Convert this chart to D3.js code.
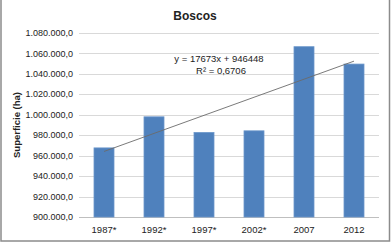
<!DOCTYPE html>
<html>
<head>
<meta charset="utf-8">
<script src="https://cdn.jsdelivr.net/npm/d3@7"></script>
<style>
  body { margin: 0; background: #fff; overflow: hidden; }
  svg { display: block; }
  text { font-family: "Liberation Sans", Arial, sans-serif; fill: #222; }
</style>
</head>
<body>
<div id="chart"></div>
<script>
// data
const years = ["1987*", "1992*", "1997*", "2002*", "2007", "2012"];
const surface = [967600, 998000, 982700, 984300, 1066600, 1049600];
const yTicks = [900000, 920000, 940000, 960000, 980000, 1000000, 1020000, 1040000, 1060000, 1080000];
const trendSlope = 17673;
const trendIntercept = 946448;
const trendLabel = "y = 17673x + 946448";
const r2Label = "R\u00b2 = 0,6706";

const width = 391, height = 244;
const margin = { top: 33, right: 12, bottom: 27, left: 79 };
const innerWidth = width - margin.left - margin.right;
const innerHeight = height - margin.top - margin.bottom;

const fmt = v => d3.format(",.1f")(v).replace(/,/g, "#").replace(".", ",").replace(/#/g, ".");

const svg = d3.select("#chart").append("svg")
    .attr("width", width)
    .attr("height", height);

// outer chart border
svg.append("path")
    .attr("d", `M1,0 V241 H389.5 V0`)
    .attr("fill", "none")
    .attr("stroke", "#8c8c8c")
    .attr("stroke-width", 1.5);

const xScale = d3.scaleBand()
    .domain(years)
    .range([0, innerWidth])
    .paddingInner(0.6)
    .paddingOuter(0.3);

const yScale = d3.scaleLinear()
    .domain([900000, 1080000])
    .range([innerHeight, 0]);

const inner = svg.append("g")
    .attr("transform", `translate(${margin.left}, ${margin.top})`);

// gridlines
inner.selectAll(".grid")
    .data(yTicks)
    .join("line")
    .attr("class", "grid")
    .attr("x1", 0)
    .attr("x2", innerWidth)
    .attr("y1", d => Math.round(yScale(d)) + 0.5)
    .attr("y2", d => Math.round(yScale(d)) + 0.5)
    .attr("stroke", d => d === 900000 ? "#bfbfbf" : "#d9d9d9")
    .attr("stroke-width", 1);

// y tick labels
inner.selectAll(".ylab")
    .data(yTicks)
    .join("text")
    .attr("class", "ylab")
    .attr("x", -6)
    .attr("y", d => yScale(d))
    .attr("dy", "0.35em")
    .attr("text-anchor", "end")
    .style("font-size", "9px")
    .text(d => fmt(d));

// bars
inner.selectAll(".bar")
    .data(surface)
    .join("rect")
    .attr("class", "bar")
    .attr("x", (d, i) => xScale(years[i]))
    .attr("y", d => yScale(d))
    .attr("width", xScale.bandwidth())
    .attr("height", d => innerHeight - yScale(d))
    .attr("fill", "#4f81bd")
    .attr("stroke", "#6c97cb")
    .attr("stroke-width", 0.8);

// x labels
inner.selectAll(".xlab")
    .data(years)
    .join("text")
    .attr("class", "xlab")
    .attr("x", d => xScale(d) + xScale.bandwidth() / 2)
    .attr("y", innerHeight + 16)
    .attr("text-anchor", "middle")
    .style("font-size", "9.5px")
    .text(d => d);

// linear trendline
const trendLine = d3.line()
    .x(d => xScale(d) + xScale.bandwidth() / 2)
    .y(d => yScale(trendIntercept + trendSlope * (years.indexOf(d) + 1)));

inner.append("path")
    .datum([years[0], years[years.length - 1]])
    .attr("d", trendLine)
    .attr("fill", "none")
    .attr("stroke", "#6b6b6b")
    .attr("stroke-width", 0.9);

svg.append("text")
    .attr("x", 219)
    .attr("y", 62)
    .attr("text-anchor", "middle")
    .style("font-size", "9.5px")
    .text(trendLabel);

svg.append("text")
    .attr("x", 221)
    .attr("y", 74)
    .attr("text-anchor", "middle")
    .style("font-size", "9.5px")
    .text(r2Label);

// title
svg.append("text")
    .attr("x", 195)
    .attr("y", 20)
    .attr("text-anchor", "middle")
    .style("font-size", "12px")
    .style("font-weight", "bold")
    .text("Boscos");

// y axis title
svg.append("text")
    .attr("transform", `translate(20, ${margin.top + innerHeight / 2}) rotate(-90)`)
    .attr("text-anchor", "middle")
    .style("font-size", "9.5px")
    .style("font-weight", "bold")
    .text("Superficie (ha)");
</script>
</body>
</html>
